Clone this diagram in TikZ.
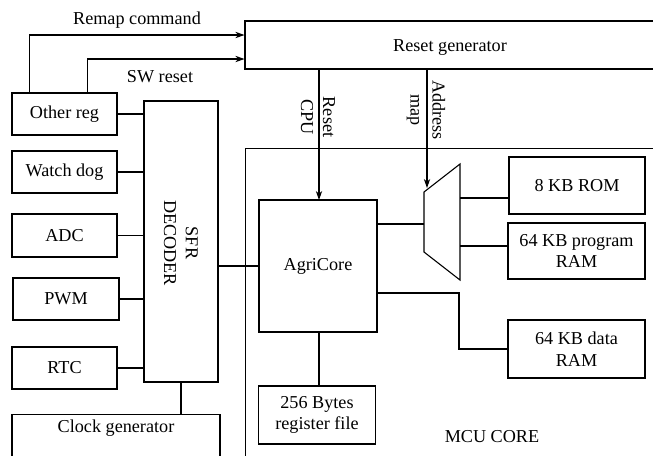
\documentclass[tikz,border=0pt]{standalone}
\usepackage{fontspec}
\setmainfont{Liberation Serif}
\usepackage{tikz}
\usetikzlibrary{
	arrows.meta,
	calc,
	positioning
}

\begin{document}
\begin{tikzpicture}[x=0.55pt,y=-0.55pt,line width=0.6pt,
		box/.style={draw,rectangle,inner sep=0pt,align=center},
		sig/.style={-{Stealth[length=5pt,width=3.5pt]}}]
		\useasboundingbox (0,0) rectangle (653,455);
		\clip (0,0) rectangle (653,455);
		% blocks
		\node[box,minimum width=415*0.55pt,minimum height=48*0.55pt] (resetgen) at (452.5,45) {};
		\node (resettxt) at (450,48) {Reset generator};
		\node[box,minimum width=460*0.55pt,minimum height=360*0.55pt,anchor=north west] (mcu) at (245,148) {};
		\node (mcutxt) at (492,437) {MCU CORE};
		\node[box,minimum width=105*0.55pt,minimum height=42*0.55pt] (otherreg) at (64.5,114) {Other reg};
		\node[box,minimum width=105*0.55pt,minimum height=42*0.55pt] (watchdog) at (64.5,172) {Watch dog};
		\node[box,minimum width=105*0.55pt,minimum height=43*0.55pt] (adc) at (64.5,235.5) {ADC};
		\node[box,minimum width=106*0.55pt,minimum height=42*0.55pt] (pwm) at (66,299) {PWM};
		\node[box,minimum width=105*0.55pt,minimum height=42*0.55pt] (rtc) at (64.5,368) {RTC};
		\node[box,minimum width=74*0.55pt,minimum height=281*0.55pt] (sfr) at (181,241.5) {};
		\node[rotate=-90,align=center] (sfrtxt) at (181,243) {SFR\\DECODER};
		\node[box,minimum width=208*0.55pt,text height=10pt,text depth=20pt,anchor=north] (clockgen) at (116,414) {Clock generator};
		\node[box,minimum width=118*0.55pt,minimum height=132*0.55pt] (agricore) at (318,266) {AgriCore};
		\node[box,minimum width=117*0.55pt,minimum height=58*0.55pt] (regfile) at (317,415) {256 Bytes\\register file};
		\node[box,minimum width=136*0.55pt,minimum height=57*0.55pt] (rom) at (577,185.5) {8 KB ROM};
		\node[box,minimum width=137*0.55pt,minimum height=56*0.55pt] (pram) at (576.5,251) {64 KB program\\RAM};
		\node[box,minimum width=137*0.55pt,minimum height=58*0.55pt] (dram) at (576.5,349) {64 KB data\\RAM};
		% address mux
		\coordinate (muxa) at (424,192);
		\coordinate (muxb) at (460,164);
		\coordinate (muxc) at (460,280);
		\coordinate (muxd) at (424,252);
		\coordinate (muxin) at (424,224);
		\coordinate (muxtop) at (427,188);
		\coordinate (muxrom) at (460,198);
		\coordinate (muxpram) at (460,246);
		\coordinate (bend) at (459,293);
		\coordinate (resetin) at (319,200);
		\draw (muxa)--(muxb)--(muxc)--(muxd)--cycle;
		% signals to reset generator
		\draw[sig] ($(otherreg.north west)+(18,0)$) |- ($(resetgen.west)+(0,-10)$);
		\draw[sig] ($(otherreg.north west)+(76,0)$) |- ($(resetgen.west)+(0,14)$);
		\node (remaptxt) at (137,20) {Remap command};
		\node (swtxt) at (160,77) {SW reset};
		% SFR bus
		\draw (otherreg.east) -- (otherreg.east -| sfr.west);
		\draw (watchdog.east) -- (watchdog.east -| sfr.west);
		\draw (adc.east) -- (adc.east -| sfr.west);
		\draw (pwm.east) -- (pwm.east -| sfr.west);
		\draw (rtc.east) -- (rtc.east -| sfr.west);
		\draw (sfr.south) -- (sfr.south |- clockgen.north);
		\draw (sfr.east |- agricore.west) -- (agricore.west);
		% core
		\draw[sig] (resetin |- resetgen.south) -- (resetin);
		\node[rotate=-90,align=center] (cputxt) at (318,117) {Reset\\CPU};
		\draw[sig] (muxtop |- resetgen.south) -- (muxtop);
		\node[rotate=-90,align=center] (maptxt) at (426,110) {Address\\map};
		\draw (resetin |- agricore.south) -- (resetin |- regfile.north);
		\draw (agricore.east |- muxin) -- (muxin);
		\draw (muxrom) -- (muxrom -| rom.west);
		\draw (muxpram) -- (muxpram -| pram.west);
		\draw (agricore.east |- bend) -- (bend) |- (dram.west);
	\end{tikzpicture}
\end{document}
